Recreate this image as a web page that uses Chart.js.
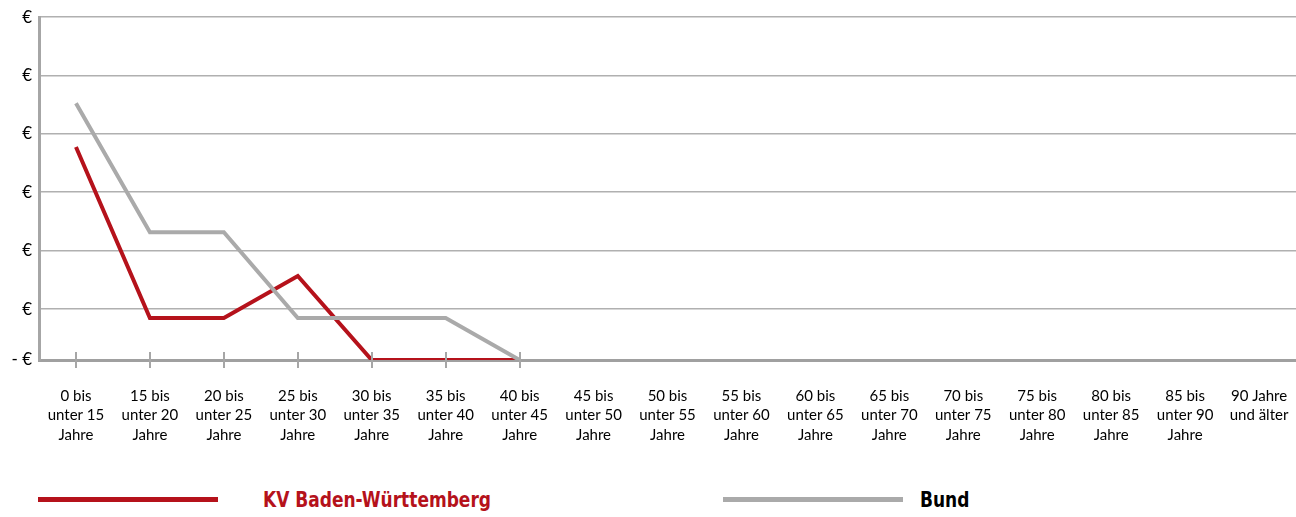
<!DOCTYPE html>
<html>
<head>
<meta charset="utf-8">
<script src="https://cdn.jsdelivr.net/npm/chart.js@4/dist/chart.umd.min.js"></script>
<style>
  html, body { margin: 0; padding: 0; background: #fff; }
  #wrap { position: relative; width: 1296px; height: 517px; }
  #chart { position: absolute; left: 0; top: 0; }
  .leg { position: absolute; top: 486px; height: 26px; display: flex; align-items: center; }
  .leg .swatch { height: 5px; width: 180px; flex: none; }
  .leg .txt { font-family: "DejaVu Sans Condensed", "DejaVu Sans", sans-serif; font-weight: bold; font-size: 22px;
              display: inline-block; transform: scaleX(0.86); transform-origin: left center; white-space: nowrap; }
</style>
</head>
<body>
<div id="wrap">
  <canvas id="chart" width="1296" height="470"></canvas>
  <div class="leg" style="left:38px;"><div class="swatch" style="background:#b5121b"></div><span class="txt" style="margin-left:45px;color:#b5121b">KV Baden-Württemberg</span></div>
  <div class="leg" style="left:723px;"><div class="swatch" style="background:#aaaaaa"></div><span class="txt" style="margin-left:17px;color:#000">Bund</span></div>
</div>
<script>
const categories = [
  ['0 bis', 'unter 15', 'Jahre'],
  ['15 bis', 'unter 20', 'Jahre'],
  ['20 bis', 'unter 25', 'Jahre'],
  ['25 bis', 'unter 30', 'Jahre'],
  ['30 bis', 'unter 35', 'Jahre'],
  ['35 bis', 'unter 40', 'Jahre'],
  ['40 bis', 'unter 45', 'Jahre'],
  ['45 bis', 'unter 50', 'Jahre'],
  ['50 bis', 'unter 55', 'Jahre'],
  ['55 bis', 'unter 60', 'Jahre'],
  ['60 bis', 'unter 65', 'Jahre'],
  ['65 bis', 'unter 70', 'Jahre'],
  ['70 bis', 'unter 75', 'Jahre'],
  ['75 bis', 'unter 80', 'Jahre'],
  ['80 bis', 'unter 85', 'Jahre'],
  ['85 bis', 'unter 90', 'Jahre'],
  ['90 Jahre', 'und älter']
];
// values in gridline units (labels in the source show only "€")
const kvBW = [3.65, 0.72, 0.72, 1.44, 0, 0, 0, null, null, null, null, null, null, null, null, null, null];
const bund = [4.40, 2.19, 2.19, 0.72, 0.72, 0.72, 0, null, null, null, null, null, null, null, null, null, null];
const yTickValues = [0, 0.873, 1.875, 2.875, 3.875, 4.875, 5.873];
const lastTickIndex = 6; // source shows tick marks only up to "40 bis"

const RED = '#b5121b';
const GREY = '#aaaaaa';

// small tick marks crossing the x axis
const axisTicks = {
  id: 'axisTicks',
  afterDatasetsDraw(chart) {
    const x = chart.scales.x, y = chart.scales.y;
    const ctx = chart.ctx;
    const base = y.getPixelForValue(0);
    ctx.save();
    ctx.strokeStyle = '#a6a6a6';
    ctx.lineWidth = 2;
    for (let i = 0; i <= lastTickIndex; i++) {
      const px = Math.round(x.getPixelForTick(i));
      ctx.beginPath();
      ctx.moveTo(px, base - 8);
      ctx.lineTo(px, base + 8);
      ctx.stroke();
    }
    ctx.restore();
  }
};

new Chart(document.getElementById('chart'), {
  type: 'line',
  data: {
    labels: categories,
    datasets: [
      { label: 'KV Baden-Württemberg', data: kvBW, borderColor: RED, borderWidth: 4, pointRadius: 0, tension: 0, spanGaps: false, order: 2 },
      { label: 'Bund', data: bund, borderColor: GREY, borderWidth: 4, pointRadius: 0, tension: 0, spanGaps: false, order: 1 }
    ]
  },
  options: {
    responsive: false,
    animation: false,
    layout: { padding: { top: 9, right: 0, left: 0, bottom: 0 } },
    plugins: { legend: { display: false }, tooltip: { enabled: false } },
    scales: {
      x: {
        offset: true,
        grid: { display: false, drawTicks: false },
        border: { display: true, color: '#a0a0a0', width: 3 },
        ticks: {
          autoSkip: false, maxRotation: 0, minRotation: 0, padding: 26,
          color: '#000',
          font: { family: 'Lato', size: 15, lineHeight: 1.3 }
        },
        afterFit(scale) { scale.height = 110; scale.paddingLeft = 0; scale.paddingRight = 0; }
      },
      y: {
        min: 0,
        max: 5.873,
        afterBuildTicks(scale) { scale.ticks = yTickValues.map(v => ({ value: v })); },
        grid: { color: '#b0b0b0', lineWidth: 1.5, drawTicks: false },
        border: { display: true, color: '#a6a6a6', width: 3 },
        ticks: {
          padding: 7, color: '#000',
          font: { family: 'Lato', size: 17 },
          callback: v => v === 0 ? '- €' : '€'
        },
        afterFit(scale) { scale.width = 39; }
      }
    }
  },
  plugins: [axisTicks]
});
</script>
</body>
</html>
